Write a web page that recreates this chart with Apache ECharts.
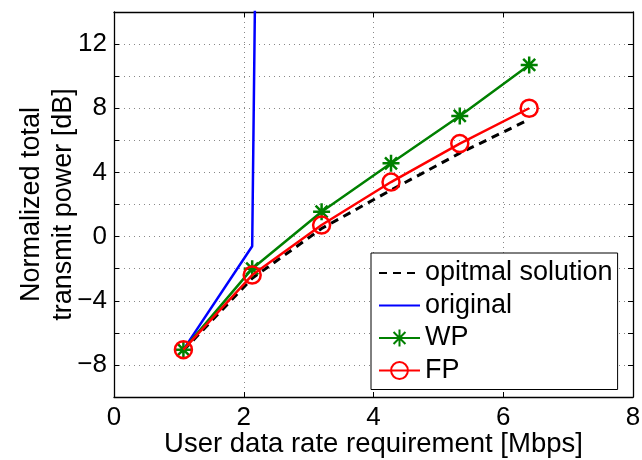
<!DOCTYPE html>
<html>
<head>
<meta charset="utf-8">
<script src="https://cdn.jsdelivr.net/npm/echarts@6/dist/echarts.min.js"></script>
<style>
  html, body { margin: 0; padding: 0; background: #fff; }
  #chart { width: 642px; height: 460px; }
</style>
</head>
<body>
<div id="chart"></div>
<script>
// User data rate requirement [Mbps]
const rates = [1.07, 2.13, 3.2, 4.27, 5.33, 6.4];
// Normalized total transmit power [dB] for each scheme
const optimalPower = [-7.1, -2.6, 0.5, 2.9, 5.2, 7.3];
const originalRates = [1.07, 2.13, 3.2];
const originalPower = [-7.05, -0.6, 380];
const wpPower = [-7.05, -2.0, 1.55, 4.57, 7.52, 10.7];
const fpPower = [-7.05, -2.4, 0.72, 3.4, 5.8, 8.0];
const seriesNames = ['opitmal solution', 'original', 'WP', 'FP'];

const FONT = "'Liberation Sans', Arial, Helvetica, sans-serif";
const pairs = (xs, ys) => xs.map((x, i) => [x, ys[i]]);
const minus = v => String(v).replace('-', '\u2212');

// eight-armed asterisk marker
const asterisk = 'path://M0 0L0 20M-10 10L10 10M-7.07 2.93L7.07 17.07M-7.07 17.07L7.07 2.93';

const chart = echarts.init(document.getElementById('chart'), null, { renderer: 'canvas' });

// top and right edges of the box, ticks only
const frameAxis = {
  axisLine: { show: true, onZero: false, lineStyle: { color: '#000', width: 1.3 } },
  axisTick: { show: true, inside: true, length: 5, lineStyle: { color: '#000' } },
  axisLabel: { show: false },
  splitLine: { show: false }
};

// legend rows without a marker for plain lines
const noMarker = { color: 'rgba(0,0,0,0)', borderWidth: 0, opacity: 0 };

chart.setOption({
  animation: false,
  backgroundColor: '#fff',
  textStyle: { fontFamily: FONT },
  grid: { left: 114, right: 9, top: 12, bottom: 63, containLabel: false, outerBoundsMode: 'none' },
  xAxis: [
    {
      type: 'value', min: 0, max: 8, interval: 2,
      name: 'User data rate requirement [Mbps]',
      nameLocation: 'middle', nameGap: 33, nameMoveOverlap: false,
      nameTextStyle: { fontFamily: FONT, fontSize: 27.5, color: '#000' },
      axisLine: { show: true, onZero: false, lineStyle: { color: '#000', width: 1.3 } },
      axisTick: { show: true, inside: true, length: 5, lineStyle: { color: '#000' } },
      axisLabel: { fontFamily: FONT, fontSize: 26, color: '#000', margin: 8 },
      splitLine: { show: true, lineStyle: { color: '#888', type: [1, 4], width: 1 } }
    },
    Object.assign({ type: 'value', position: 'top', min: 0, max: 8, interval: 2 }, frameAxis)
  ],
  yAxis: [
    {
      type: 'value', min: -10, max: 14, interval: 2,
      name: 'Normalized total\ntransmit power [dB]',
      nameLocation: 'middle', nameGap: 34, nameRotate: 90, nameMoveOverlap: false,
      nameTextStyle: { fontFamily: FONT, fontSize: 27, color: '#000', lineHeight: 32 },
      axisLine: { show: true, onZero: false, lineStyle: { color: '#000', width: 1.3 } },
      axisTick: { show: true, inside: true, length: 5, lineStyle: { color: '#000' } },
      axisLabel: {
        fontFamily: FONT, fontSize: 26, color: '#000', margin: 7,
        formatter: v => (v % 4 === 0 ? minus(v) : '')
      },
      splitLine: { show: true, lineStyle: { color: '#888', type: [1, 4], width: 1 } }
    },
    Object.assign({ type: 'value', position: 'right', min: -10, max: 14, interval: 2 }, frameAxis)
  ],
  legend: {
    orient: 'vertical',
    left: 371, top: 253,
    data: [
      { name: seriesNames[0], itemStyle: noMarker },
      { name: seriesNames[1], itemStyle: noMarker },
      { name: seriesNames[2] },
      { name: seriesNames[3] }
    ],
    backgroundColor: '#fff',
    borderColor: '#000', borderWidth: 1,
    padding: [6, 5, 5, 7],
    itemWidth: 41, itemHeight: 21, itemGap: 4.5,
    textStyle: { fontFamily: FONT, fontSize: 27, color: '#000', lineHeight: 28 }
  },
  series: [
    {
      name: seriesNames[0], type: 'line', data: pairs(rates, optimalPower),
      symbol: 'none', clip: true,
      itemStyle: { color: '#000' },
      lineStyle: { color: '#000', width: 3, type: [8, 6] },
      z: 2
    },
    {
      name: seriesNames[1], type: 'line', data: pairs(originalRates, originalPower),
      symbol: 'none', clip: true,
      itemStyle: { color: '#0000ff' },
      lineStyle: { color: '#0000ff', width: 2.5 },
      z: 3
    },
    {
      name: seriesNames[2], type: 'line', data: pairs(rates, wpPower),
      symbol: asterisk, symbolSize: 17, clip: true,
      itemStyle: { color: '#008000', borderColor: '#008000', borderWidth: 2.5 },
      lineStyle: { color: '#008000', width: 2.5 },
      z: 4
    },
    {
      name: seriesNames[3], type: 'line', data: pairs(rates, fpPower),
      symbol: 'circle', symbolSize: 17, clip: true,
      itemStyle: { color: 'rgba(255,0,0,0)', borderColor: '#ff0000', borderWidth: 2.5 },
      lineStyle: { color: '#ff0000', width: 2.5 },
      z: 5
    }
  ]
});
</script>
</body>
</html>
